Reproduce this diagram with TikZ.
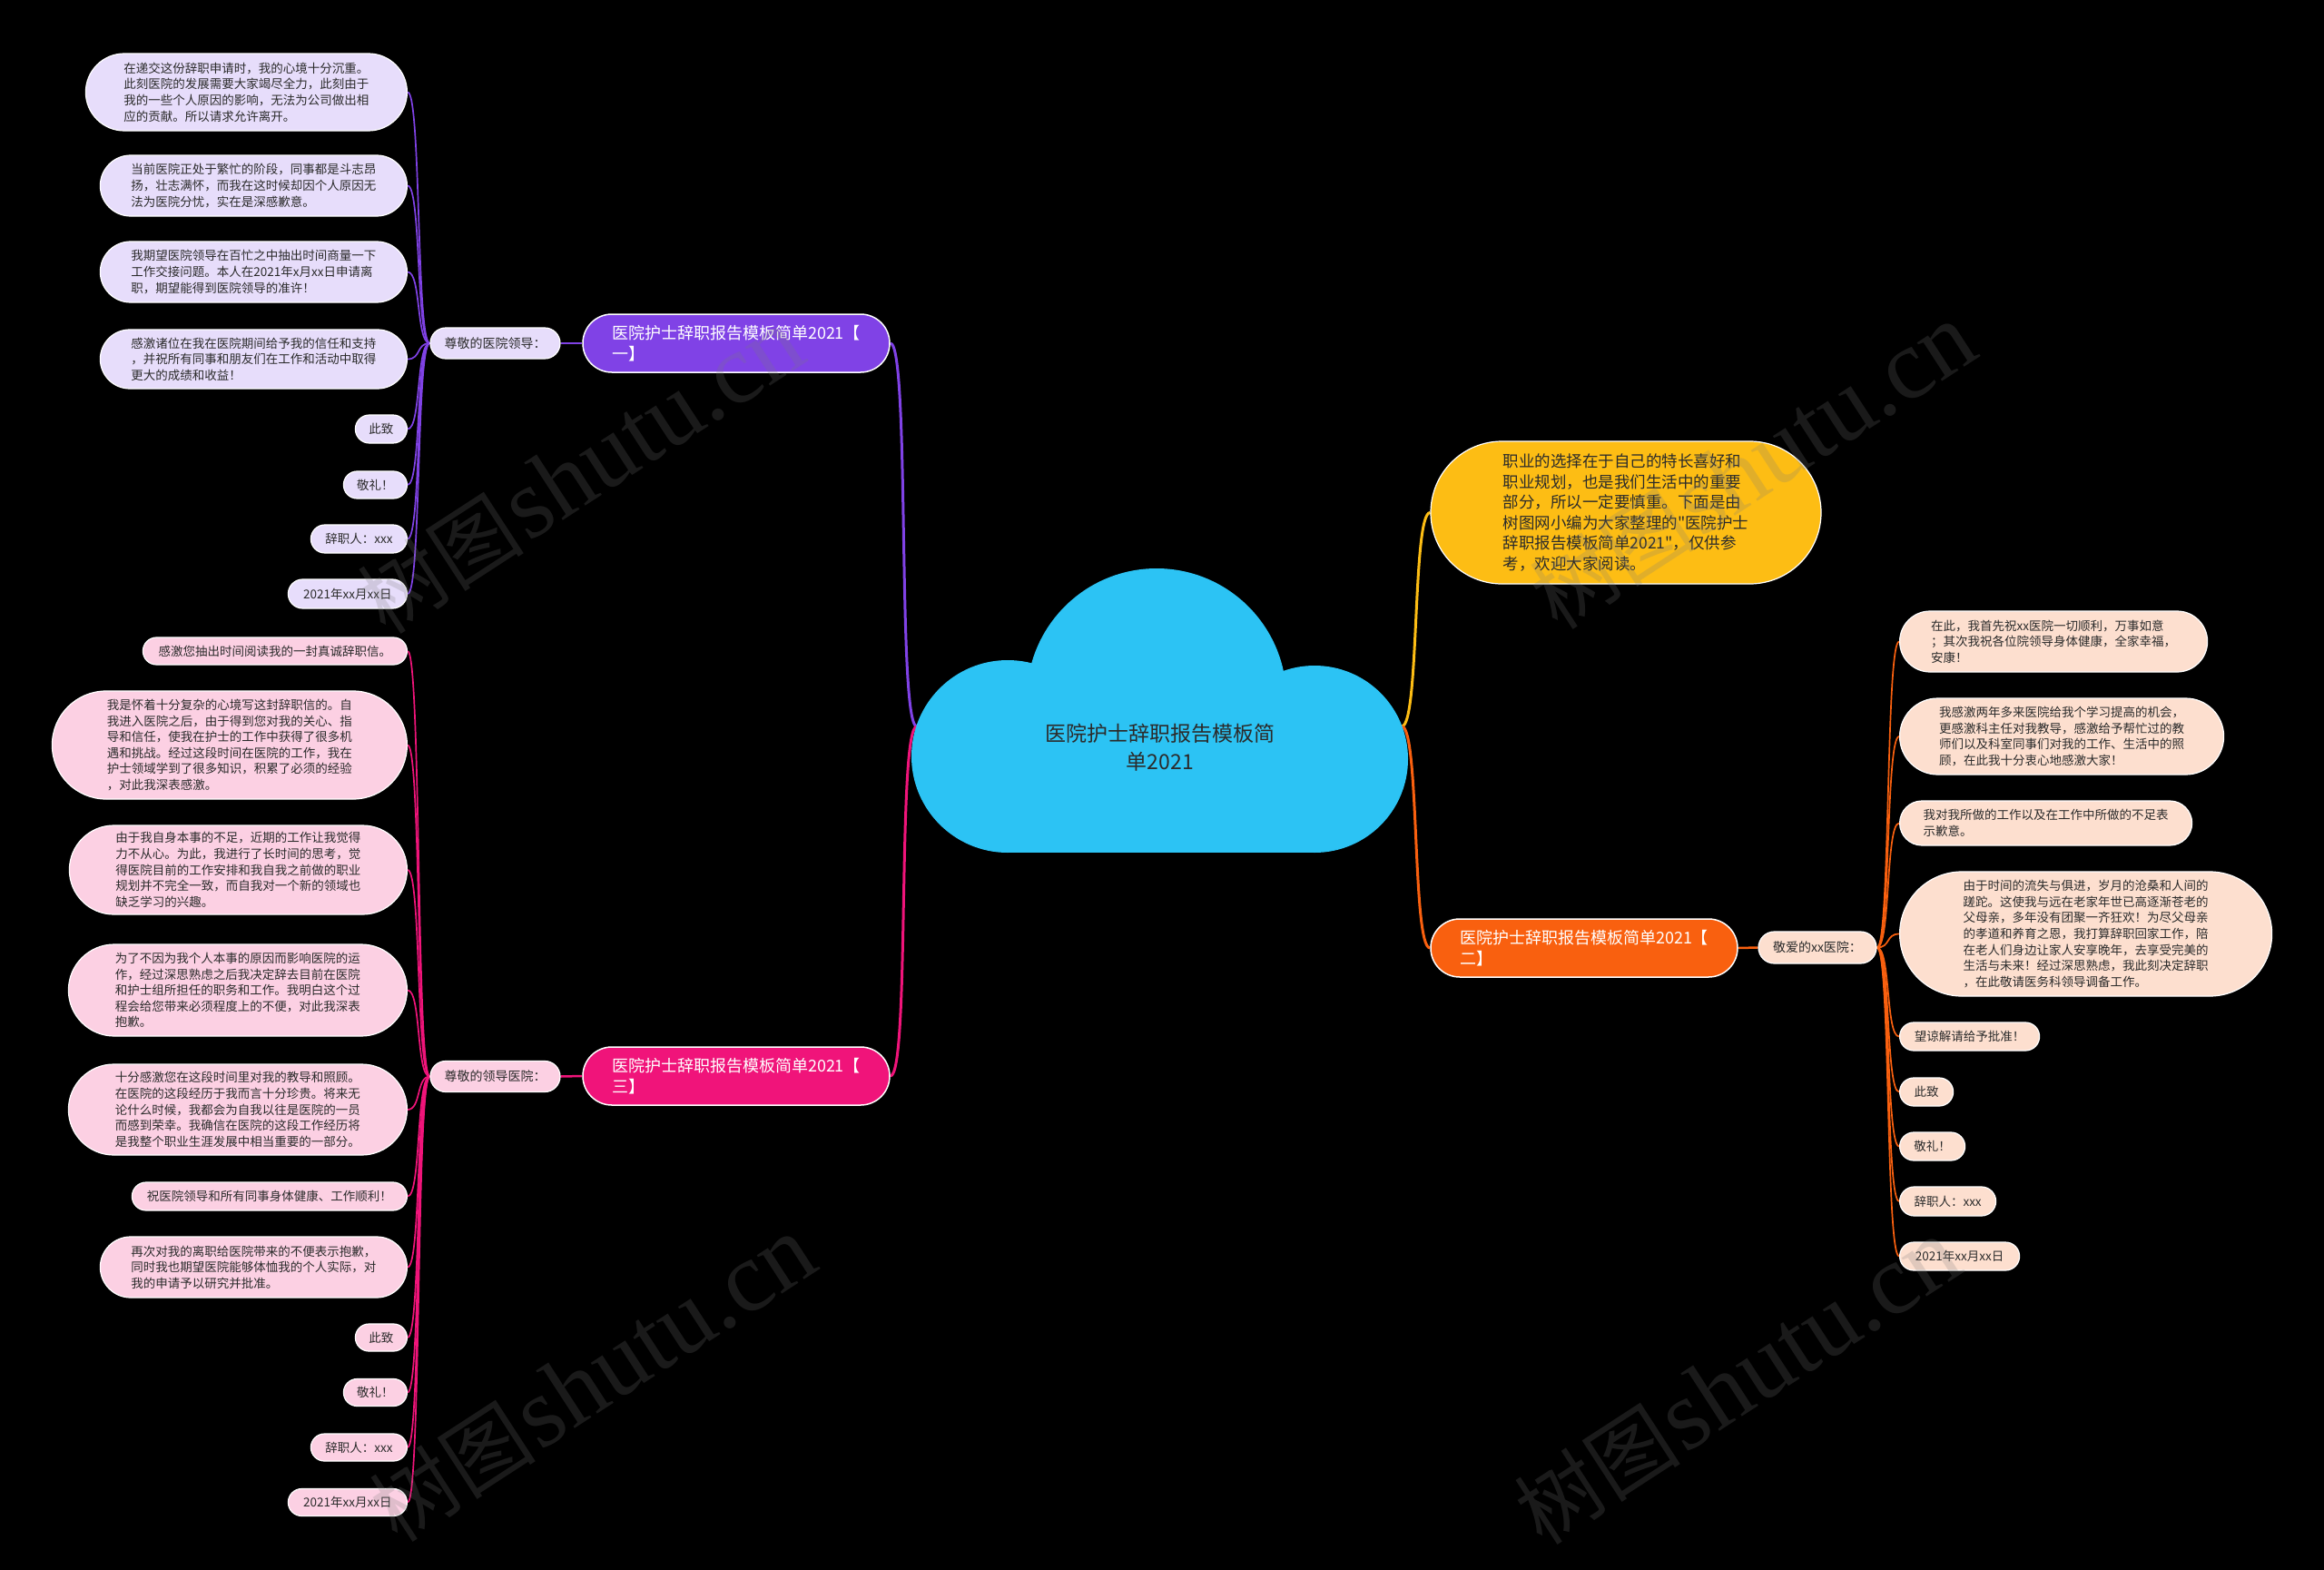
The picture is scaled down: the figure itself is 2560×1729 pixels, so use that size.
\documentclass[tikz,border=0pt]{standalone}
\usepackage{fontspec}
\newfontfamily\cjk{Noto Sans CJK SC}
\newfontfamily\wmserif{Liberation Serif}
\usetikzlibrary{shapes.misc}
\definecolor{cloudc}{HTML}{2CC3F4}
\definecolor{purb}{HTML}{8042E6}
\definecolor{pinkb}{HTML}{F0147A}
\definecolor{orab}{HTML}{F9600F}
\definecolor{yelb}{HTML}{FDBD14}
\definecolor{purl}{HTML}{E7DDFB}
\definecolor{pinkl}{HTML}{FCD0E3}
\definecolor{oral}{HTML}{FDDFCF}
\definecolor{txt}{HTML}{2B2B2B}
\definecolor{wmc}{HTML}{7A7A7A}
\pgfdeclarelayer{bg}\pgfdeclarelayer{lines}\pgfsetlayers{bg,lines,main}
\tikzset{
 pill/.style={shape=rounded rectangle, inner sep=0pt, draw=white, line width=1.2pt, align=left},
 leaffont/.style={font=\cjk\fontsize{13.5}{17.6}\selectfont},
 leafP/.style={pill, leaffont, fill=purl, text=txt},
 leafK/.style={pill, leaffont, fill=pinkl, text=txt},
 leafO/.style={pill, leaffont, fill=oral, text=txt},
 branch/.style={pill, font=\cjk\fontsize{18}{23}\selectfont, text=white, line width=1.5pt, minimum width=338pt, minimum height=64pt},
 lab/.style={pill, font=\cjk\fontsize{14}{17}\selectfont, text=txt},
 link/.style={line width=1.7pt},
 trunk/.style={line width=3pt},
 wm/.style={text=wmc, text opacity=0.22, inner sep=0pt, rotate=33},
}
\newcommand\mmleaf[7]{\node[#1, minimum width=#5pt, minimum height=#6pt] (#2) at (#3,#4) {#7};}
\newcommand\wmtext{{\cjk\fontsize{92}{92}\selectfont 树图} {\wmserif\fontsize{110}{110}\selectfont shutu.cn}}
\begin{document}
\begin{tikzpicture}[x=1pt,y=-1pt]
\begin{pgfonlayer}{bg}
\fill[black] (0,0) rectangle (2560,1729);
\end{pgfonlayer}
\useasboundingbox (0,0) rectangle (2560,1729);

% central cloud
\fill[cloudc] (1274,769) circle (143pt);
\fill[cloudc] (1110,833) circle (106pt);
\fill[cloudc] (1448,836) circle (103pt);
\fill[cloudc] (1110,836) rectangle (1448,939);
\node[align=center, text=txt, font=\cjk\fontsize{23}{31}\selectfont] (root) at (1278,823) {医院护士辞职报告模板简\\单2021};
\coordinate (cl) at (1010,800);
\coordinate (cr) at (1544,800);

% branches
\node[branch, fill=purb] (B1) at (811,378) {医院护士辞职报告模板简单2021【\\一】};
\node[branch, fill=pinkb] (B3) at (811,1185) {医院护士辞职报告模板简单2021【\\三】};
\node[branch, fill=orab] (B2) at (1745,1044) {医院护士辞职报告模板简单2021【\\二】};
\node[pill, fill=yelb, text=txt, font=\cjk\fontsize{17.5}{22.6}\selectfont, minimum width=430pt, minimum height=157pt] (Y) at (1791,564.5) {职业的选择在于自己的特长喜好和\\职业规划，也是我们生活中的重要\\部分，所以一定要慎重。下面是由\\树图网小编为大家整理的"医院护士\\辞职报告模板简单2021"，仅供参\\考，欢迎大家阅读。};

% labels
\node[lab, fill=purl, minimum width=143pt, minimum height=34pt] (L1) at (545.5,378) {尊敬的医院领导：};
\node[lab, fill=pinkl, minimum width=143pt, minimum height=34pt] (L3) at (545.5,1185.5) {尊敬的领导医院：};
\node[lab, fill=oral, minimum width=130pt, minimum height=35pt] (L2) at (2002,1043.5) {敬爱的xx医院：};

% purple leaves
\mmleaf{leafP,anchor=east}{P1}{449}{101.5}{354}{85}{在递交这份辞职申请时，我的心境十分沉重。\\此刻医院的发展需要大家竭尽全力，此刻由于\\我的一些个人原因的影响，无法为公司做出相\\应的贡献。所以请求允许离开。}
\mmleaf{leafP,anchor=east}{P2}{449}{204.5}{338}{67}{当前医院正处于繁忙的阶段，同事都是斗志昂\\扬，壮志满怀，而我在这时候却因个人原因无\\法为医院分忧，实在是深感歉意。}
\mmleaf{leafP,anchor=east}{P3}{449}{299.5}{338}{67}{我期望医院领导在百忙之中抽出时间商量一下\\工作交接问题。本人在2021年x月xx日申请离\\职，期望能得到医院领导的准许！}
\mmleaf{leafP,anchor=east}{P4}{449}{395.5}{338}{65}{感激诸位在我在医院期间给予我的信任和支持\\，并祝所有同事和朋友们在工作和活动中取得\\更大的成绩和收益！}
\mmleaf{leafP,anchor=east}{P5}{449}{472.5}{57}{31}{此致}
\mmleaf{leafP,anchor=east}{P6}{449}{534}{70}{30}{敬礼！}
\mmleaf{leafP,anchor=east}{P7}{449}{593.5}{106}{31}{辞职人：xxx}
\mmleaf{leafP,anchor=east}{P8}{449}{654}{131}{32}{2021年xx月xx日}

% pink leaves
\mmleaf{leafK,anchor=east}{K1}{449}{717}{291}{30}{感激您抽出时间阅读我的一封真诚辞职信。}
\mmleaf{leafK,anchor=east}{K2}{449}{820.5}{391}{119}{我是怀着十分复杂的心境写这封辞职信的。自\\我进入医院之后，由于得到您对我的关心、指\\导和信任，使我在护士的工作中获得了很多机\\遇和挑战。经过这段时间在医院的工作，我在\\护士领域学到了很多知识，积累了必须的经验\\，对此我深表感激。}
\mmleaf{leafK,anchor=east}{K3}{449}{958}{372}{98}{由于我自身本事的不足，近期的工作让我觉得\\力不从心。为此，我进行了长时间的思考，觉\\得医院目前的工作安排和我自我之前做的职业\\规划并不完全一致，而自我对一个新的领域也\\缺乏学习的兴趣。}
\mmleaf{leafK,anchor=east}{K4}{449}{1090.5}{373}{101}{为了不因为我个人本事的原因而影响医院的运\\作，经过深思熟虑之后我决定辞去目前在医院\\和护士组所担任的职务和工作。我明白这个过\\程会给您带来必须程度上的不便，对此我深表\\抱歉。}
\mmleaf{leafK,anchor=east}{K5}{449}{1222}{373}{100}{十分感激您在这段时间里对我的教导和照顾。\\在医院的这段经历于我而言十分珍贵。将来无\\论什么时候，我都会为自我以往是医院的一员\\而感到荣幸。我确信在医院的这段工作经历将\\是我整个职业生涯发展中相当重要的一部分。}
\mmleaf{leafK,anchor=east}{K6}{449}{1317.5}{303}{31}{祝医院领导和所有同事身体健康、工作顺利！}
\mmleaf{leafK,anchor=east}{K7}{449}{1395.5}{338}{67}{再次对我的离职给医院带来的不便表示抱歉，\\同时我也期望医院能够体恤我的个人实际，对\\我的申请予以研究并批准。}
\mmleaf{leafK,anchor=east}{K8}{449}{1473}{57}{30}{此致}
\mmleaf{leafK,anchor=east}{K9}{449}{1533.5}{70}{30}{敬礼！}
\mmleaf{leafK,anchor=east}{K10}{449}{1594}{106}{30}{辞职人：xxx}
\mmleaf{leafK,anchor=east}{K11}{449}{1654.5}{131}{30}{2021年xx月xx日}

% orange leaves
\mmleaf{leafO,anchor=west}{O1}{2092}{706.5}{339}{67}{在此，我首先祝xx医院一切顺利，万事如意\\；其次我祝各位院领导身体健康，全家幸福，\\安康！}
\mmleaf{leafO,anchor=west}{O2}{2092}{811}{357}{84}{我感激两年多来医院给我个学习提高的机会，\\更感激科主任对我教导，感激给予帮忙过的教\\师们以及科室同事们对我的工作、生活中的照\\顾，在此我十分衷心地感激大家！}
\mmleaf{leafO,anchor=west}{O3}{2092}{906.5}{322}{49}{我对我所做的工作以及在工作中所做的不足表\\示歉意。}
\mmleaf{leafO,anchor=west}{O4}{2092}{1028.5}{410}{137}{由于时间的流失与俱进，岁月的沧桑和人间的\\蹉跎。这使我与远在老家年世已高逐渐苍老的\\父母亲，多年没有团聚一齐狂欢！为尽父母亲\\的孝道和养育之恩，我打算辞职回家工作，陪\\在老人们身边让家人安享晚年，去享受完美的\\生活与未来！经过深思熟虑，我此刻决定辞职\\，在此敬请医务科领导调备工作。}
\mmleaf{leafO,anchor=west}{O5}{2092}{1141.5}{154}{31}{望谅解请给予批准！}
\mmleaf{leafO,anchor=west}{O6}{2092}{1202.5}{59}{31}{此致}
\mmleaf{leafO,anchor=west}{O7}{2092}{1262.5}{72}{31}{敬礼！}
\mmleaf{leafO,anchor=west}{O8}{2092}{1323}{106}{32}{辞职人：xxx}
\mmleaf{leafO,anchor=west}{O9}{2092}{1383.5}{132}{31}{2021年xx月xx日}

% connectors
\begin{pgfonlayer}{lines}
\draw[trunk, purb] (cl) .. controls +(-22,0) and +(22,0) .. (B1.east);
\draw[trunk, pinkb] (cl) .. controls +(-22,0) and +(22,0) .. (B3.east);
\draw[trunk, yelb] (cr) .. controls +(20,0) and +(-20,0) .. (Y.west);
\draw[trunk, orab] (cr) .. controls +(20,0) and +(-20,0) .. (B2.west);
\draw[line width=2.5pt, purb] (B1.west) -- (L1.east);
\draw[line width=2.5pt, pinkb] (B3.west) -- (L3.east);
\draw[line width=2.5pt, orab] (B2.east) -- (L2.west);
\foreach \n in {P1,P2,P3,P4,P5,P6,P7,P8}
  \draw[link, purb] (L1.west) .. controls +(-15,0) and +(15,0) .. (\n.east);
\foreach \n in {K1,K2,K3,K4,K5,K6,K7,K8,K9,K10,K11}
  \draw[link, pinkb] (L3.west) .. controls +(-15,0) and +(15,0) .. (\n.east);
\foreach \n in {O1,O2,O3,O4,O5,O6,O7,O8,O9}
  \draw[link, orab] (L2.east) .. controls +(15,0) and +(-15,0) .. (\n.west);
\end{pgfonlayer}

% watermarks
\node[wm] (wm1) at (640,519) {\wmtext};
\node[wm] (wm2) at (1931,514) {\wmtext};
\node[wm] (wm3) at (653,1519) {\wmtext};
\node[wm] (wm4) at (1914,1522) {\wmtext};
\end{tikzpicture}
\end{document}
